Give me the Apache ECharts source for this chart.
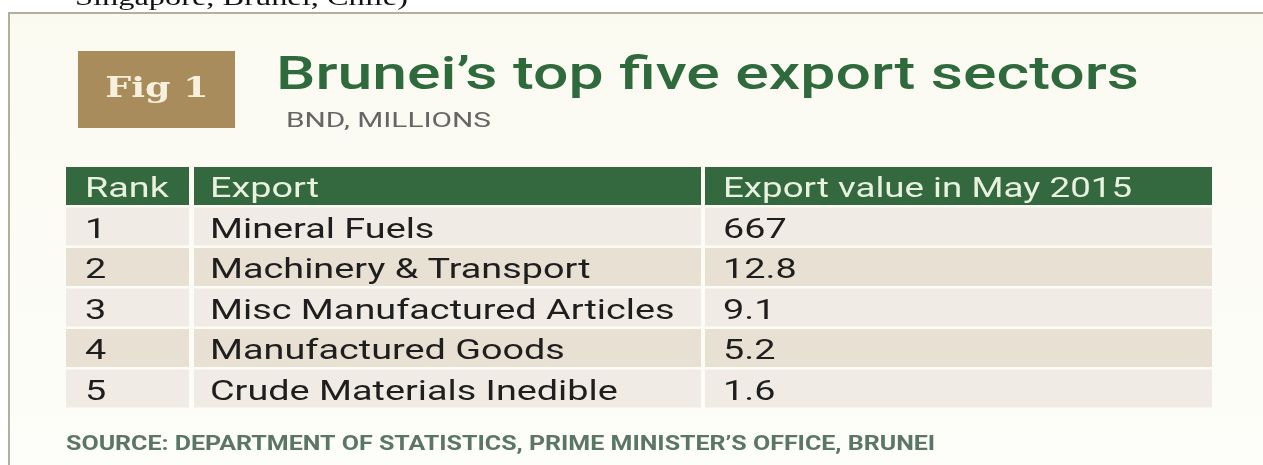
<!DOCTYPE html>
<html>
<head>
<meta charset="utf-8">
<script src="https://cdn.jsdelivr.net/npm/echarts@6/dist/echarts.min.js"></script>
<style>
  html, body { margin: 0; padding: 0; background: #ffffff; }
  #chart { width: 1263px; height: 465px; }
</style>
</head>
<body>
<div id="chart"></div>
<script>
// Table content
const headers = ['Rank', 'Export', 'Export value in May 2015'];
const ranks = ['1', '2', '3', '4', '5'];
const sectors = ['Mineral Fuels', 'Machinery & Transport', 'Misc Manufactured Articles', 'Manufactured Goods', 'Crude Materials Inedible'];
const exportValues = [667, 12.8, 9.1, 5.2, 1.6];

const titleText = 'Brunei\u2019s top five export sectors';
const subtitleText = 'BND, MILLIONS';
const figLabel = 'Fig 1';
const sourceText = 'SOURCE: DEPARTMENT OF STATISTICS, PRIME MINISTER\u2019S OFFICE, BRUNEI';
const carryOverText = 'Singapore, Brunei, Chile)';

// Layout (axis units along x equal pixels inside the grid)
const TABLE_W = 1146;
const COLS = [[0, 123], [128, 635], [639, TABLE_W]];
const TEXT_PAD = [19, 16, 18];
const ROW_GAP = 2.5;
const STRETCH = 1.35;

const GREEN = '#34683f';
const ROW_FILL = ['#f0ebe4', '#e7e0d3'];

const rowKeys = [headers[0]].concat(ranks);

function cellText(row, col) {
  if (row === 0) return headers[col];
  const i = row - 1;
  if (col === 0) return ranks[i];
  if (col === 1) return sectors[i];
  return String(exportValues[i]);
}

const chart = echarts.init(document.getElementById('chart'), null, { renderer: 'canvas' });

chart.setOption({
  animation: false,
  backgroundColor: '#ffffff',
  grid: { left: 66, top: 167, width: TABLE_W, height: 243 },
  xAxis: { type: 'value', min: 0, max: TABLE_W, show: false },
  yAxis: { type: 'category', data: rowKeys, inverse: true, show: false },
  graphic: [
    {
      type: 'rect', z: -10, silent: true,
      shape: { x: 9, y: 14, width: 1254, height: 451 },
      style: {
        fill: new echarts.graphic.LinearGradient(0, 0, 0, 1, [
          { offset: 0, color: '#fbfaf1' },
          { offset: 1, color: '#fdfdf9' }
        ])
      }
    },
    {
      type: 'line', z: -5, silent: true,
      shape: { x1: 8, y1: 13, x2: 1263, y2: 13 },
      style: { stroke: '#b2b09c', lineWidth: 2 }
    },
    {
      type: 'line', z: -5, silent: true,
      shape: { x1: 9, y1: 13, x2: 9, y2: 465 },
      style: { stroke: '#b2b09c', lineWidth: 2 }
    },
    {
      type: 'text', silent: true, x: 75, y: -1, scaleX: STRETCH,
      style: {
        text: carryOverText, x: 0, y: 0,
        font: '24px "Liberation Serif", serif',
        fill: '#111111', align: 'left', verticalAlign: 'middle'
      }
    },
    {
      type: 'rect', silent: true,
      shape: { x: 78, y: 51, width: 157, height: 77 },
      style: { fill: '#a88c5c' }
    },
    {
      type: 'text', silent: true, x: 157, y: 90, scaleX: STRETCH,
      style: {
        text: figLabel, x: 0, y: 0,
        font: 'bold 27px "DejaVu Serif", serif',
        fill: '#f7f0dc', align: 'center', verticalAlign: 'middle'
      }
    },
    {
      type: 'text', silent: true, x: 276, y: 77, scaleX: 1.33,
      style: {
        text: titleText, x: 0, y: 0,
        font: '500 47px Roboto, sans-serif',
        fill: '#2e6a3b', align: 'left', verticalAlign: 'middle'
      }
    },
    {
      type: 'text', silent: true, x: 286, y: 122, scaleX: 1.42,
      style: {
        text: subtitleText, x: 0, y: 0,
        font: '21px Roboto, sans-serif',
        fill: '#666666', align: 'left', verticalAlign: 'middle'
      }
    },
    {
      type: 'text', silent: true, x: 66, y: 445, scaleX: 1.25,
      style: {
        text: sourceText, x: 0, y: 0,
        font: 'bold 20px Roboto, sans-serif',
        fill: '#5c7666', align: 'left', verticalAlign: 'middle'
      }
    }
  ],
  series: [{
    type: 'custom',
    coordinateSystem: 'cartesian2d',
    encode: { x: 0, y: 1 },
    data: rowKeys.map(function (k, i) { return [0, i]; }),
    renderItem: function (params, api) {
      const row = api.value(1);
      const center = api.coord([0, row]);
      const band = api.size([0, 1])[1];
      const top = center[1] - band / 2;
      const h = band - ROW_GAP;
      const children = [];
      const fill = row === 0 ? GREEN : ROW_FILL[(row - 1) % 2];
      for (let c = 0; c < COLS.length; c++) {
        const x0 = api.coord([COLS[c][0], row])[0];
        const x1 = api.coord([COLS[c][1], row])[0];
        children.push({
          type: 'rect',
          shape: { x: x0, y: top, width: x1 - x0, height: h },
          style: { fill: fill }
        });
        children.push({
          type: 'text',
          x: x0 + TEXT_PAD[c],
          y: top + h / 2 + 4,
          scaleX: row === 0 && c === 2 ? 1.31 : STRETCH,
          style: {
            text: cellText(row, c), x: 0, y: 0,
            font: '28px Roboto, sans-serif',
            fill: row === 0 ? '#e9f1df' : '#1e1e1e',
            align: 'left', verticalAlign: 'middle'
          }
        });
      }
      return { type: 'group', children: children };
    }
  }]
});
</script>
</body>
</html>
